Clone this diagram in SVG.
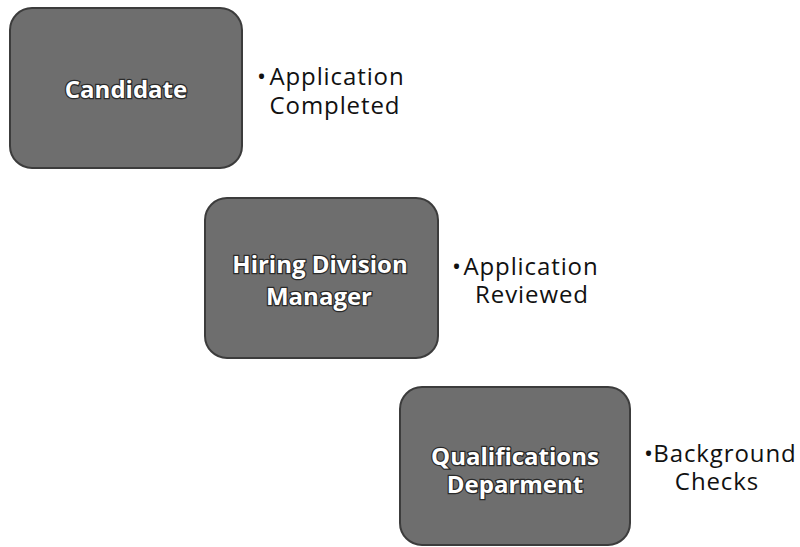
<svg xmlns="http://www.w3.org/2000/svg" width="800" height="547" viewBox="0 0 800 547">
<style>
.box{fill:#6e6e6e;stroke:#3c3c3c;stroke-width:2}
.lbl{font-family:"Open Sans","Noto Sans",sans-serif;font-weight:bold;font-size:24px;fill:#ffffff;stroke:#2a2a2a;stroke-width:2.5;paint-order:stroke;text-anchor:middle}
.note{font-family:"Open Sans","Noto Sans",sans-serif;font-size:24px;letter-spacing:0.9px;fill:#111111;text-anchor:middle}
.bul{font-family:"Open Sans","Noto Sans",sans-serif;font-size:24px;fill:#111111}
</style>
<rect width="800" height="547" fill="#ffffff"/>
<g id="connectors"></g>
<g id="candidate">
<rect class="box" x="10" y="8" width="232" height="160" rx="22"/>
<text class="lbl" x="126" y="98">Candidate</text>
<text class="bul" x="257" y="85">•</text>
<text class="note" x="337" y="85">Application</text>
<text class="note" x="335" y="114">Completed</text>
</g>
<g id="hiring-manager">
<rect class="box" x="205" y="198" width="233" height="160" rx="22"/>
<text class="lbl" x="320" y="273">Hiring Division</text>
<text class="lbl" x="319" y="305">Manager</text>
<text class="bul" x="452" y="275">•</text>
<text class="note" x="531" y="275">Application</text>
<text class="note" x="532" y="303">Reviewed</text>
</g>
<g id="qualifications">
<rect class="box" x="400" y="387" width="230" height="158" rx="22"/>
<text class="lbl" x="515" y="465">Qualifications</text>
<text class="lbl" x="515" y="493">Deparment</text>
<text class="bul" x="644" y="462">•</text>
<text class="note" x="725" y="462">Background</text>
<text class="note" x="717" y="490">Checks</text>
</g>
</svg>
